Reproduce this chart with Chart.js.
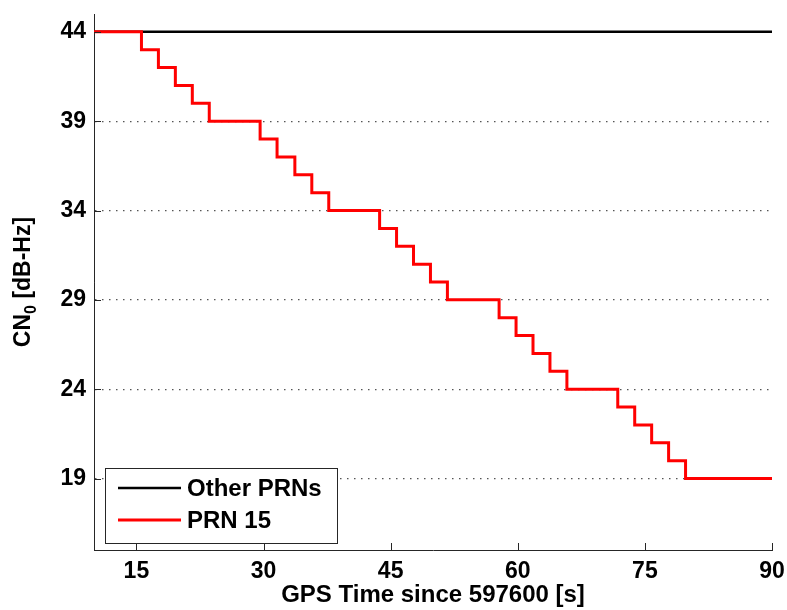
<!DOCTYPE html>
<html>
<head>
<meta charset="utf-8">
<script src="https://cdn.jsdelivr.net/npm/chart.js@4.4.1/dist/chart.umd.min.js"></script>
<style>
  html, body { margin: 0; padding: 0; background: #fff; }
  #wrap { width: 787px; height: 610px; position: relative; }
</style>
</head>
<body>
<div id="wrap"><canvas id="c" width="787" height="610"></canvas></div>
<script>
// ---- data ----
const stepTimes = [10, 15.6, 17.6, 19.6, 21.6, 23.6, 29.6, 31.6, 33.7, 35.7, 37.7, 43.7, 45.7, 47.7, 49.7, 51.7, 57.8, 59.8, 61.8, 63.8, 65.8, 71.8, 73.8, 75.8, 77.8, 79.8, 90];
const prn15Cn0  = [44, 43, 42, 41, 40, 39, 38, 37, 36, 35, 34, 33, 32, 31, 30, 29, 28, 27, 26, 25, 24, 23, 22, 21, 20, 19, 19];
const otherTimes = [10, 90];
const otherCn0   = [44, 44];
const xTickValues = [15, 30, 45, 60, 75, 90];
const yTickValues = [19, 24, 29, 34, 39, 44];
const seriesLabels = ['Other PRNs', 'PRN 15'];
const xTitle = 'GPS Time since 597600 [s]';

const FONT = "'Liberation Sans', Arial, sans-serif";

const toXY = (xs, ys) => xs.map((x, i) => ({ x: x, y: ys[i] }));

const innerTicks = {
  id: 'innerTicks',
  afterDatasetsDraw(chart) {
    const ctx = chart.ctx, a = chart.chartArea;
    const xs = chart.scales.x, ys = chart.scales.y;
    ctx.save();
    ctx.strokeStyle = '#262626';
    ctx.lineWidth = 1;
    ctx.beginPath();
    xTickValues.forEach(v => {
      const px = Math.round(xs.getPixelForValue(v)) + 0.5;
      ctx.moveTo(px, a.bottom); ctx.lineTo(px, a.bottom - 7);
    });
    yTickValues.forEach(v => {
      const py = Math.round(ys.getPixelForValue(v)) + 0.5;
      ctx.moveTo(a.left, py); ctx.lineTo(a.left + 7, py);
    });
    ctx.stroke();
    ctx.restore();
  }
};

const boxLegend = {
  id: 'boxLegend',
  afterDraw(chart) {
    const ctx = chart.ctx;
    const bx = 105, by = 468, bw = 232, bh = 75;
    ctx.save();
    ctx.fillStyle = '#fff';
    ctx.fillRect(bx, by, bw, bh);
    ctx.strokeStyle = '#262626';
    ctx.lineWidth = 1;
    ctx.strokeRect(bx + 0.5, by + 0.5, bw, bh);
    const rows = [488, 520];
    chart.data.datasets.forEach((ds, i) => {
      const y = rows[i];
      ctx.strokeStyle = ds.borderColor;
      ctx.lineWidth = ds.borderWidth;
      ctx.beginPath();
      ctx.moveTo(118, y); ctx.lineTo(181, y);
      ctx.stroke();
      ctx.fillStyle = '#000';
      ctx.font = 'bold 24px ' + FONT;
      ctx.textBaseline = 'middle';
      ctx.textAlign = 'left';
      ctx.fillText(ds.label, 187, y + 1);
    });
    ctx.restore();
  }
};

const yTitle = {
  id: 'yTitle',
  afterDraw(chart) {
    const ctx = chart.ctx, a = chart.chartArea;
    const big = 'bold 23px ' + FONT, small = 'bold 16px ' + FONT;
    const p1 = 'CN', p2 = '0', p3 = ' [dB-Hz]';
    ctx.save();
    ctx.font = big; const w1 = ctx.measureText(p1).width, w3 = ctx.measureText(p3).width;
    ctx.font = small; const w2 = ctx.measureText(p2).width;
    const total = w1 + w2 + w3;
    ctx.translate(24, (a.top + a.bottom) / 2);
    ctx.rotate(-Math.PI / 2);
    ctx.fillStyle = '#000';
    ctx.textBaseline = 'middle';
    ctx.textAlign = 'left';
    let x = -total / 2;
    ctx.font = big; ctx.fillText(p1, x, 0); x += w1;
    ctx.font = small; ctx.fillText(p2, x, 8); x += w2;
    ctx.font = big; ctx.fillText(p3, x, 0);
    ctx.restore();
  }
};

new Chart(document.getElementById('c'), {
  type: 'line',
  data: {
    datasets: [
      {
        label: seriesLabels[0],
        data: toXY(otherTimes, otherCn0),
        borderColor: '#000000',
        borderWidth: 2.5,
        pointRadius: 0,
        fill: false,
        order: 1
      },
      {
        label: seriesLabels[1],
        data: toXY(stepTimes, prn15Cn0),
        borderColor: '#ff0000',
        borderWidth: 3,
        pointRadius: 0,
        stepped: 'before',
        fill: false,
        order: 0
      }
    ]
  },
  options: {
    responsive: false,
    animation: false,
    layout: { padding: { top: 14, right: 15, left: 0, bottom: 0 } },
    plugins: { legend: { display: false }, tooltip: { enabled: false } },
    scales: {
      x: {
        type: 'linear',
        min: 10, max: 90,
        afterBuildTicks: s => { s.ticks = xTickValues.map(v => ({ value: v })); },
        afterFit: s => { s.height = 60; s.paddingLeft = 0; s.paddingRight = 0; },
        grid: { display: false, drawTicks: false },
        border: { display: true, color: '#262626', width: 1 },
        ticks: { color: '#000', font: { family: FONT, size: 23, weight: 'bold' }, padding: 8, maxRotation: 0, autoSkip: false },
        title: { display: true, text: xTitle, color: '#000', font: { family: FONT, size: 24, weight: 'bold' }, padding: { top: 0, bottom: 0 } }
      },
      y: {
        type: 'linear',
        min: 15, max: 45,
        afterBuildTicks: s => { s.ticks = yTickValues.map(v => ({ value: v })); },
        afterFit: s => { s.width = 94; s.paddingTop = 0; s.paddingBottom = 0; },
        grid: {
          drawTicks: false,
          color: '#555',
          lineWidth: 1.2
        },
        border: { display: true, color: '#262626', width: 1, dash: [1.5, 5.5] },
        ticks: { color: '#000', font: { family: FONT, size: 23, weight: 'bold' }, padding: 8, autoSkip: false }
      }
    }
  },
  plugins: [innerTicks, boxLegend, yTitle]
});
</script>
</body>
</html>
